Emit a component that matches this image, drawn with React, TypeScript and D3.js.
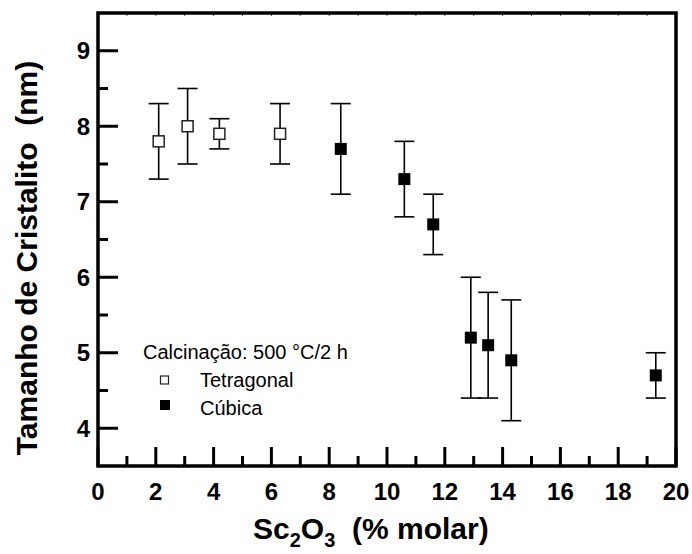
import React from "react";
import * as d3 from "d3";

const tetraX = [2.1, 3.1, 4.2, 6.3];
const tetraY = [7.8, 8.0, 7.9, 7.9];
const tetraErr = [0.5, 0.5, 0.2, 0.4];

const cubX = [8.4, 10.6, 11.6, 12.9, 13.5, 14.3, 19.3];
const cubY = [7.7, 7.3, 6.7, 5.2, 5.1, 4.9, 4.7];
const cubErr = [0.6, 0.5, 0.4, 0.8, 0.7, 0.8, 0.3];

const xTicks = [0, 2, 4, 6, 8, 10, 12, 14, 16, 18, 20];
const xMinor = [1, 3, 5, 7, 9, 11, 13, 15, 17, 19];
const yTicks = [4, 5, 6, 7, 8, 9];
const yMinor = [4.5, 5.5, 6.5, 7.5, 8.5];

const legendTitle = "Calcinação: 500 °C/2 h";
const legendLabels = ["Tetragonal", "Cúbica"];
const yTitle = "Tamanho de Cristalito  (nm)";

const W = 692, H = 554;
const L = 98, R = 676, T = 13, B = 466;

export default function App() {
  const x = d3.scaleLinear().domain([0, 20]).range([L, R]);
  const y = d3.scaleLinear().domain([3.5, 9.5]).range([B, T]);
  const font = "'Liberation Sans', Arial, sans-serif";
  const ms = 12;
  const cap = 10;

  const errBar = (xv: number, yv: number, e: number, key: string) => (
    <g key={key} stroke="#000" strokeWidth={1.6}>
      <line x1={x(xv)} x2={x(xv)} y1={y(yv + e)} y2={y(yv - e)} />
      <line x1={x(xv) - cap} x2={x(xv) + cap} y1={y(yv + e)} y2={y(yv + e)} />
      <line x1={x(xv) - cap} x2={x(xv) + cap} y1={y(yv - e)} y2={y(yv - e)} />
    </g>
  );

  return (
    <svg width={W} height={H} style={{ position: "absolute", left: 0, top: 0 }} fontFamily={font}>
      <rect width={W} height={H} fill="#fff" />
      {tetraX.map((v, i) => errBar(v, tetraY[i], tetraErr[i], "te" + i))}
      {cubX.map((v, i) => errBar(v, cubY[i], cubErr[i], "ce" + i))}
      {tetraX.map((v, i) => (
        <rect key={"tm" + i} x={x(v) - ms / 2 + 0.5} y={y(tetraY[i]) - ms / 2 + 0.5} width={ms - 1} height={ms - 1}
          fill="#fff" stroke="#222" strokeWidth={1.5} />
      ))}
      {cubX.map((v, i) => (
        <rect key={"cm" + i} x={x(v) - ms / 2} y={y(cubY[i]) - ms / 2} width={ms} height={ms} fill="#000" />
      ))}
      {xTicks.map((t) => (
        <line key={"xt" + t} x1={x(t)} x2={x(t)} y1={B} y2={B - 19} stroke="#000" strokeWidth={3} />
      ))}
      {xMinor.map((t) => (
        <line key={"xm" + t} x1={x(t)} x2={x(t)} y1={B} y2={B - 10} stroke="#000" strokeWidth={3} />
      ))}
      {d3.range(1, 20).map((t) => (
        <line key={"xtop" + t} x1={x(t)} x2={x(t)} y1={T} y2={T + 3} stroke="#555" strokeWidth={1} />
      ))}
      {yTicks.map((t) => (
        <line key={"yt" + t} x1={L} x2={L + 20} y1={y(t)} y2={y(t)} stroke="#000" strokeWidth={3} />
      ))}
      {yMinor.map((t) => (
        <line key={"ym" + t} x1={L} x2={L + 10} y1={y(t)} y2={y(t)} stroke="#000" strokeWidth={3} />
      ))}
      <rect x={L} y={T} width={R - L} height={B - T} fill="none" stroke="#000" strokeWidth={3.5} />
      {xTicks.map((t) => (
        <text key={"xl" + t} x={x(t)} y={500} textAnchor="middle" fontSize={24} fontWeight="bold">{t}</text>
      ))}
      {yTicks.map((t) => (
        <text key={"yl" + t} x={90} y={y(t) + 8.5} textAnchor="end" fontSize={24} fontWeight="bold">{t}</text>
      ))}
      <text x={253} y={539} fontSize={30} fontWeight="bold" style={{ whiteSpace: "pre" }}>
        Sc<tspan fontSize={20} dy={8}>2</tspan><tspan dy={-8}>O</tspan><tspan fontSize={20} dy={8}>3</tspan>
        <tspan dy={-8}>{"  (% molar)"}</tspan>
      </text>
      <text transform={`translate(37,258) rotate(-90)`} textAnchor="middle" fontSize={30}
        fontWeight="bold" style={{ whiteSpace: "pre" }}>{yTitle}</text>
      <text x={143} y={359} fontSize={20}>{legendTitle}</text>
      <rect x={160.5} y={376} width={8} height={8} fill="#fff" stroke="#222" strokeWidth={1.2} />
      <text x={200} y={387} fontSize={20}>{legendLabels[0]}</text>
      <rect x={160} y={400} width={10} height={10} fill="#000" />
      <text x={200} y={415} fontSize={20}>{legendLabels[1]}</text>
    </svg>
  );
}
